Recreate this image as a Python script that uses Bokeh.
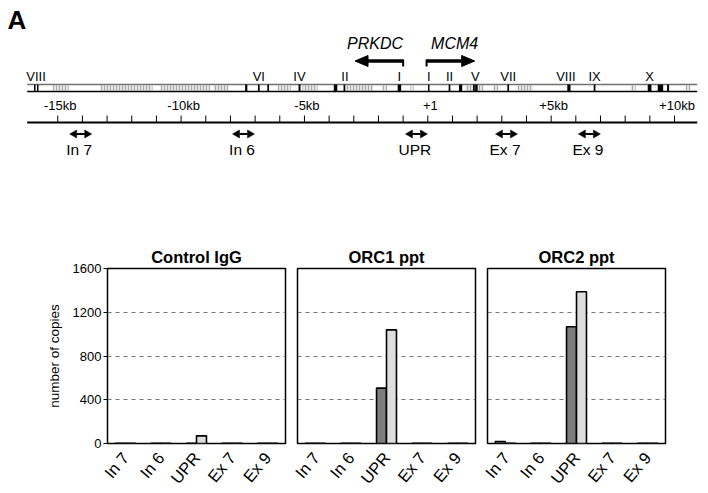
import math
from bokeh.plotting import figure
from bokeh.models import Range1d, FactorRange, FixedTicker, Label, ColumnDataSource
from bokeh.transform import dodge
from bokeh.layouts import column, row
from bokeh.embed import file_html
from bokeh.resources import INLINE
from bokeh.core.properties import value

FONT = "Liberation Sans"

# ---------------- Panel A data (genomic map, kb relative to +1) ----------------
map_start_kb = -16.24
map_end_kb = 10.92

exon_kb = [-15.93, -15.81, -7.36, -6.85, -6.47, -5.20, -3.74, -3.38, -1.15, 0.04,
           0.88, 1.33, 1.87, 1.97, 3.26, 5.72, 6.76, 8.99, 9.43, 9.74]
exon_len_kb = [0.06, 0.06, 0.09, 0.07, 0.07, 0.08, 0.14, 0.07, 0.14, 0.06,
               0.07, 0.13, 0.07, 0.10, 0.07, 0.13, 0.07, 0.15, 0.22, 0.08]

exon_label_kb = [-15.88, -6.85, -5.20, -3.36, -1.15, 0.04, 0.88, 1.93, 3.26, 5.60, 6.76, 8.99]
exon_labels = ["VIII", "VI", "IV", "II", "I", "I", "II", "V", "VII", "VIII", "IX", "X"]

repeat_start_kb = [-15.21, -13.27, -10.84, -8.69, -6.09, -5.08, -3.34, -1.84, -0.70,
                   1.53, 2.66, 3.64, 8.22, 10.45]
repeat_end_kb = [-14.56, -11.16, -8.81, -8.08, -5.56, -4.47, -2.21, -1.64, -0.58,
                 2.26, 2.86, 4.25, 8.42, 10.65]

gene_names = ["PRKDC", "MCM4"]
gene_tss_kb = [-1.0, -0.05]
gene_strand = [-1, 1]

scale_ticks_kb = list(range(-15, 11))
scale_label_kb = [-15, -10, -5, 0, 5, 10]
scale_labels = ["-15kb", "-10kb", "-5kb", "+1", "+5kb", "+10kb"]

primer_names = ["In 7", "In 6", "UPR", "Ex 7", "Ex 9"]
primer_kb = [-14.07, -7.47, -0.46, 3.19, 6.55]

# ---------------- Panel B data (number of copies) ----------------
categories = ["In 7", "In 6", "UPR", "Ex 7", "Ex 9"]
panel_titles = ["Control IgG", "ORC1 ppt", "ORC2 ppt"]
control_dark = [2, 2, 2, 2, 2]
control_light = [2, 2, 70, 2, 2]
orc1_dark = [2, 2, 506, 2, 2]
orc1_light = [2, 2, 1039, 2, 2]
orc2_dark = [18, 2, 1067, 2, 2]
orc2_light = [2, 2, 1387, 2, 2]
y_ticks = [0, 400, 800, 1200, 1600]
grid_ticks = [400, 800, 1200]

# ---------------- Panel A figure ----------------
PX_PER_KB = 24.67
ZERO_X = 427.3              # pixel of +1 inside the figure
WA, HA = 708, 228
INK = "black"


def px(n):
    return n / PX_PER_KB


pa = figure(width=WA, height=HA, output_backend="svg", toolbar_location=None,
            x_range=Range1d(-ZERO_X / PX_PER_KB, (WA - ZERO_X) / PX_PER_KB),
            y_range=Range1d(HA, 0),
            x_axis_location=None, y_axis_location=None,
            min_border=0, outline_line_color=None)
pa.grid.visible = False

# panel letter
pa.text(x=[pa.x_range.start + px(7)], y=[19], text=["A"], text_font=value(FONT),
        text_font_size="26px", text_font_style="bold", text_align="left",
        text_baseline="middle", text_color=INK)

MAP_TOP, MAP_BOT = 84, 91
# repeats
pa.quad(left=repeat_start_kb, right=repeat_end_kb, top=MAP_TOP + 1, bottom=MAP_BOT - 1,
        fill_color="#e4e4e4", line_color=None, hatch_pattern="vertical_line",
        hatch_color="#a8a8a8", hatch_scale=3, hatch_weight=1)
# map outline
pa.segment(x0=[map_start_kb], x1=[map_end_kb], y0=[MAP_TOP], y1=[MAP_TOP],
           line_color="#707070", line_width=1.3)
pa.segment(x0=[map_start_kb], x1=[map_end_kb], y0=[MAP_BOT], y1=[MAP_BOT],
           line_color=INK, line_width=1.5)
# exons
pa.quad(left=[k - w / 2 for k, w in zip(exon_kb, exon_len_kb)],
        right=[k + w / 2 for k, w in zip(exon_kb, exon_len_kb)],
        top=MAP_TOP, bottom=MAP_BOT, fill_color=INK, line_color=None)
pa.text(x=exon_label_kb, y=76, text=exon_labels, text_font=value(FONT),
        text_font_size="13px", text_align="center", text_baseline="middle",
        text_color=INK)

# gene arrows
ARROW_KB = 1.95
ARR_Y = 60.5
for name, tss, s in zip(gene_names, gene_tss_kb, gene_strand):
    tip = tss + s * ARROW_KB
    base = tip - s * px(13)
    pa.line(x=[tss, tss], y=[66, ARR_Y - 1.6], line_color=INK, line_width=2)
    pa.line(x=[tss, base], y=[ARR_Y, ARR_Y], line_color=INK, line_width=3.5)
    pa.patch(x=[base, tip, base], y=[ARR_Y - 5.5, ARR_Y, ARR_Y + 5.5],
             fill_color=INK, line_color=INK, line_width=1)
    pa.text(x=[(tss + tip) / 2 + s * px(4)], y=[43], text=[name], text_font=value(FONT),
            text_font_size="16px", text_font_style="italic", text_align="center",
            text_baseline="middle", text_color=INK)

# scale
SCALE_Y = 122
pa.segment(x0=[map_start_kb], x1=[map_end_kb], y0=[SCALE_Y], y1=[SCALE_Y],
           line_color=INK, line_width=2)
pa.segment(x0=scale_ticks_kb, x1=scale_ticks_kb, y0=SCALE_Y, y1=SCALE_Y - 7,
           line_color=INK, line_width=1)
pa.text(x=[k + px(2.5) for k in scale_label_kb], y=105, text=scale_labels,
        text_font=value(FONT), text_font_size="13px", text_align="center",
        text_baseline="middle", text_color=INK)

# primer double arrows
PR_Y = 133.5
half = px(11)
head = px(7)
pa.segment(x0=[c - half + head for c in primer_kb], x1=[c + half - head for c in primer_kb],
           y0=PR_Y, y1=PR_Y, line_color=INK, line_width=2.2)
xs, ys = [], []
for c in primer_kb:
    xs.append([c - half, c - half + head, c - half + head])
    ys.append([PR_Y, PR_Y - 4, PR_Y + 4])
    xs.append([c + half, c + half - head, c + half - head])
    ys.append([PR_Y, PR_Y - 4, PR_Y + 4])
pa.patches(xs=xs, ys=ys, fill_color=INK, line_color=INK, line_width=0.5)
pa.text(x=[c - px(1.5) for c in primer_kb], y=149, text=primer_names, text_font=value(FONT),
        text_font_size="15.5px", text_align="center", text_baseline="middle",
        text_color=INK)

# ---------------- Panel B figures ----------------
series = [(control_dark, control_light), (orc1_dark, orc1_light), (orc2_dark, orc2_light)]
figs = []
for i, (title, (dark, light)) in enumerate(zip(panel_titles, series)):
    src = ColumnDataSource(dict(cat=categories, dark=dark, light=light))
    first = i == 0
    f = figure(frame_width=178, frame_height=175, output_backend="svg", toolbar_location=None,
               x_range=FactorRange(*categories), y_range=Range1d(0, 1600),
               min_border_left=107 if first else 6, min_border_right=6 if i < 2 else 30,
               min_border_top=40, min_border_bottom=48,
               outline_line_color=INK, outline_line_width=1.5)
    f.title.text = title
    f.title.text_font = FONT
    f.title.text_font_size = "16.5px"
    f.title.text_font_style = "bold"
    f.title.text_color = INK
    f.title.align = "center"
    f.title.standoff = 5
    f.vbar(x=dodge("cat", -0.14, range=f.x_range), top="dark", width=0.28, source=src,
           fill_color="#7d7d7d", line_color=INK, line_width=1.6)
    f.vbar(x=dodge("cat", 0.14, range=f.x_range), top="light", width=0.28, source=src,
           fill_color="#dedede", line_color=INK, line_width=1.6)
    f.xgrid.visible = False
    f.ygrid.ticker = FixedTicker(ticks=grid_ticks)
    f.ygrid.grid_line_color = "#555555"
    f.ygrid.grid_line_dash = "4 4"
    f.ygrid.grid_line_width = 0.8
    xa = f.xaxis[0]
    xa.major_label_orientation = 0.87
    xa.major_label_text_font = FONT
    xa.major_label_text_font_size = "16.5px"
    xa.major_label_text_color = INK
    xa.major_label_standoff = 5
    xa.major_tick_line_color = None
    xa.axis_line_color = None
    ya = f.yaxis[0]
    if first:
        ya.ticker = FixedTicker(ticks=y_ticks)
        ya.major_label_text_font = FONT
        ya.major_label_text_font_size = "13px"
        ya.major_label_text_color = INK
        ya.major_tick_out = 4
        ya.major_tick_in = 0
        ya.major_tick_line_color = INK
        ya.minor_tick_line_color = None
        ya.major_label_standoff = 2
        ya.axis_line_color = None
        ya.axis_label = "number of copies"
        ya.axis_label_text_font = FONT
        ya.axis_label_text_font_size = "13.5px"
        ya.axis_label_text_font_style = "normal"
        ya.axis_label_text_color = INK
        ya.axis_label_standoff = 8
        f.add_layout(Label(x=-3.0, y=1835, text="B", text_font=FONT, text_font_size="26px",
                           text_font_style="bold", text_align="left", text_baseline="middle",
                           text_color=INK))
    else:
        ya.visible = False
    figs.append(f)

layout = column(pa, row(*figs, spacing=0), spacing=0)
open("out.html", "w").write(file_html(layout, INLINE))
